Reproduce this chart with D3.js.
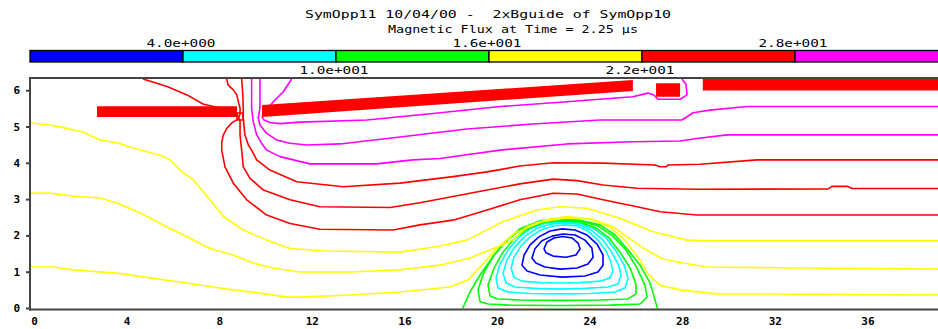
<!DOCTYPE html>
<html>
<head>
<meta charset="utf-8">
<script src="https://cdn.jsdelivr.net/npm/d3@7"></script>
<style>
  body { margin: 0; background: #fff; }
  svg { display: block; }
  text { font-family: "DejaVu Sans Mono", monospace; fill: #000; }
</style>
</head>
<body>
<div id="chart"></div>
<script>
// ---- data (x, y in plot units) ----
const titleLines = ["SymOpp11 10/04/00 -  2xBguide of SymOpp10", "Magnetic Flux at Time = 2.25 \u00b5s"];
const levelBreaks = [4, 10, 16, 22, 28];
const levelRange = [-2, 34];
const levelColors = ["#0000ff", "#00ffff", "#00ff00", "#ffff00", "#ff0000", "#ff00ff"];
const xTicks = [0, 4, 8, 12, 16, 20, 24, 28, 32, 36];
const yTicks = [0, 1, 2, 3, 4, 5, 6];

const blueContours = [
  { level: -2, closed: true, points: [[22.03,1.63],[22.16,1.82],[22.46,1.93],[22.85,1.97],[23.24,1.93],[23.50,1.79],[23.59,1.63],[23.41,1.46],[22.98,1.40],[22.42,1.43],[22.12,1.52]] },
  { level: 0, closed: true, points: [[21.51,1.38],[21.64,1.63],[21.94,1.85],[22.38,1.98],[22.85,2.04],[23.37,2.01],[23.80,1.87],[24.10,1.65],[24.15,1.40],[23.93,1.21],[23.46,1.10],[22.72,1.07],[22.07,1.13],[21.68,1.24]] },
  { level: 2, closed: true, points: [[21.08,1.18],[21.17,1.46],[21.43,1.74],[21.81,1.96],[22.29,2.12],[22.81,2.18],[23.37,2.15],[23.89,2.01],[24.32,1.76],[24.58,1.46],[24.58,1.18],[24.36,0.99],[23.80,0.88],[22.81,0.85],[21.86,0.91],[21.30,1.02]] }
];
const cyanContours = [
  { level: 4, closed: true, points: [[20.73,0.85],[20.61,1.10],[20.73,1.40],[21.04,1.71],[21.43,1.96],[21.90,2.15],[22.42,2.26],[22.94,2.29],[23.46,2.26],[23.93,2.12],[24.36,1.87],[24.71,1.57],[24.92,1.27],[25.01,1.02],[24.88,0.83],[24.45,0.74],[23.59,0.70],[22.72,0.69],[21.86,0.70],[21.08,0.74]] },
  { level: 6, closed: true, points: [[20.39,0.69],[20.26,0.96],[20.43,1.32],[20.73,1.65],[21.17,1.96],[21.68,2.18],[22.29,2.31],[22.85,2.34],[23.50,2.31],[24.06,2.15],[24.54,1.90],[24.92,1.57],[25.23,1.21],[25.36,0.91],[25.23,0.66],[24.80,0.58],[23.80,0.54],[22.72,0.52],[21.64,0.54],[20.78,0.58]] },
  { level: 8, closed: true, points: [[20.04,0.55],[19.96,0.83],[20.13,1.21],[20.48,1.60],[20.91,1.93],[21.43,2.18],[22.12,2.34],[22.81,2.37],[23.54,2.34],[24.19,2.18],[24.71,1.93],[25.14,1.57],[25.49,1.18],[25.66,0.83],[25.53,0.55],[25.10,0.44],[24.02,0.40],[22.72,0.39],[21.43,0.40],[20.48,0.44]] }
];
const greenContours = [
  { level: 10, closed: true, points: [[19.70,0.33],[19.61,0.63],[19.87,1.10],[20.26,1.54],[20.78,1.93],[21.34,2.18],[22.07,2.37],[22.81,2.40],[23.59,2.37],[24.28,2.20],[24.84,1.93],[25.31,1.54],[25.75,1.10],[26.00,0.66],[26.00,0.39],[25.66,0.25],[24.45,0.22],[22.72,0.21],[20.99,0.22],[20.04,0.25]] },
  { level: 12, closed: true, points: [[19.27,0.17],[19.18,0.50],[19.44,0.99],[19.87,1.46],[20.43,1.87],[21.12,2.20],[21.94,2.40],[22.72,2.42],[23.59,2.40],[24.36,2.26],[25.01,1.98],[25.57,1.60],[26.05,1.10],[26.39,0.63],[26.48,0.30],[26.18,0.11],[24.88,0.08],[22.72,0.07],[20.56,0.08],[19.61,0.11]] },
  { level: 14, closed: false, points: [[18.49,-0.05],[18.83,0.44],[19.27,0.91],[19.78,1.38],[20.35,1.82],[20.99,2.18],[21.86,2.40],[22.72,2.45],[23.59,2.42],[24.45,2.29],[25.10,2.01],[25.66,1.60],[26.18,1.18],[26.61,0.69],[26.95,-0.05]] }
];
const yellowContours = [
  { level: 16, closed: false, points: [[-0.17,1.13],[0.82,1.13],[1.68,1.05],[3.59,0.96],[5.01,0.83],[6.61,0.69],[7.73,0.58],[8.60,0.50],[9.76,0.41],[10.93,0.30],[11.49,0.30],[13.65,0.36],[15.81,0.44],[17.97,0.58],[18.75,0.77],[19.35,1.18],[20.00,1.65],[20.78,2.07],[21.86,2.37],[22.94,2.48],[24.02,2.45],[24.88,2.23],[25.53,1.87],[26.09,1.40],[26.52,0.94],[27.04,0.63],[27.91,0.50],[29.50,0.39],[39.05,0.36]] },
  { level: 18, closed: false, points: [[-0.17,3.17],[0.69,3.17],[1.56,3.09],[2.85,3.03],[3.59,2.89],[4.58,2.62],[5.75,2.23],[6.31,2.06],[7.60,1.64],[8.60,1.46],[9.46,1.24],[10.32,1.10],[11.49,0.99],[13.65,0.99],[15.81,1.05],[17.54,1.18],[18.83,1.38],[19.91,1.65],[20.69,1.87],[21.30,2.24],[22.16,2.44],[23.02,2.52],[24.15,2.44],[25.01,2.24],[25.62,1.96],[26.18,1.71],[26.61,1.54],[27.17,1.35],[28.03,1.24],[29.07,1.13],[33.09,1.10],[39.05,1.07]] },
  { level: 20, closed: false, points: [[-0.17,5.10],[0.69,5.04],[1.12,4.99],[2.12,4.85],[2.85,4.63],[3.59,4.55],[4.28,4.41],[5.44,4.21],[5.87,4.08],[6.31,3.80],[6.88,3.53],[7.60,2.98],[8.18,2.52],[9.04,2.15],[10.05,1.87],[11.06,1.64],[12.64,1.57],[15.81,1.54],[17.54,1.71],[18.70,1.87],[20.26,2.38],[21.73,2.70],[22.72,2.79],[23.89,2.75],[25.31,2.47],[26.74,2.10],[28.21,1.87],[29.07,1.85],[39.05,1.85]] }
];
const redContours = [
  { level: 22, closed: false, points: [[8.32,6.31],[8.39,6.14],[8.61,6.01],[8.76,5.87],[8.83,5.67],[8.90,5.51],[8.90,5.34],[8.81,5.21],[8.55,5.10],[8.34,4.96],[8.18,4.77],[8.11,4.57],[8.11,4.35],[8.25,3.89],[8.61,3.44],[9.19,2.98],[10.05,2.56],[11.06,2.33],[12.35,2.17],[15.51,2.15],[16.67,2.29],[18.10,2.42],[19.57,2.70],[20.99,2.98],[22.42,3.16],[23.46,3.14],[24.58,2.98],[26.05,2.79],[27.04,2.65],[28.64,2.56],[39.05,2.56]] },
  { level: 22, closed: true, points: [[8.77,5.37],[9.03,5.37],[9.03,5.18],[8.77,5.18]] },
  { level: 24, closed: false, points: [[4.71,6.31],[5.75,6.10],[6.61,5.87],[7.30,5.62],[8.03,5.51],[8.73,5.40],[8.90,5.15],[8.90,4.77],[8.97,4.35],[9.04,3.89],[9.33,3.57],[9.91,3.25],[11.06,2.98],[12.35,2.79],[15.38,2.77],[16.67,2.90],[18.10,3.07],[19.57,3.25],[20.99,3.42],[22.42,3.55],[23.46,3.51],[24.58,3.39],[26.05,3.30],[28.64,3.27],[34.30,3.28],[34.47,3.35],[35.16,3.35],[35.33,3.29],[39.05,3.29]] },
  { level: 26, closed: false, points: [[8.97,6.31],[9.02,5.87],[9.04,5.51],[9.04,5.23],[9.11,4.77],[9.26,4.49],[9.40,4.35],[9.62,4.08],[10.19,3.80],[11.35,3.48],[13.36,3.34],[15.81,3.44],[18.10,3.62],[19.57,3.75],[20.99,3.91],[22.42,4.00],[24.58,3.99],[26.83,3.94],[27.04,3.89],[27.30,3.89],[27.39,3.94],[28.77,3.96],[31.23,4.08],[39.05,4.08]] }
];
const magentaContours = [
  { level: 28, closed: false, points: [[9.40,6.31],[9.40,5.51],[9.47,5.13],[9.62,4.77],[9.85,4.52],[10.05,4.35],[10.63,4.17],[11.92,3.97],[14.80,3.97],[16.37,4.08],[17.54,4.12],[20.13,4.35],[23.02,4.52],[25.87,4.58],[27.91,4.60],[28.64,4.67],[29.94,4.77],[39.05,4.77]] },
  { level: 30, closed: false, points: [[9.76,6.31],[9.76,5.51],[9.69,5.23],[9.76,5.04],[10.05,4.81],[10.48,4.63],[11.06,4.54],[11.78,4.49],[13.22,4.52],[15.81,4.71],[18.70,4.93],[21.56,5.07],[24.45,5.18],[26.61,5.18],[27.99,5.18],[28.47,5.38],[29.20,5.45],[30.80,5.55],[39.05,5.55]] },
  { level: 32, closed: false, points: [[11.13,6.31],[10.76,5.95],[10.32,5.67],[10.02,5.45],[9.85,5.26],[9.94,5.18],[10.19,5.11],[10.63,5.08],[11.49,5.12],[14.38,5.18],[17.24,5.36],[20.13,5.55],[23.02,5.68],[25.87,5.82],[26.52,5.92],[26.78,5.87],[26.95,5.75],[27.91,5.75],[28.21,5.87],[28.16,6.17],[27.99,6.31]] }
];

// conductors (filled red shapes)
const conductors = [
  [[2.72,5.26],[8.77,5.26],[8.77,5.56],[2.72,5.56]],
  [[9.85,5.26],[9.85,5.59],[25.87,6.28],[25.87,5.98]],
  [[26.87,5.82],[27.91,5.82],[27.91,6.19],[26.87,6.19]],
  [[28.89,5.99],[39.6,5.99],[39.6,6.32],[28.89,6.32]]
];

// ---- layout ----
const width = 938, height = 329;
const plot = { left: 30, right: 938, top: 78, bottom: 309.5 };

const svg = d3.select('#chart').append('svg')
  .attr('width', width)
  .attr('height', height);

const x = d3.scaleLinear().domain([0, 39]).range([34, 34 + 39 * 23.15]);
const y = d3.scaleLinear().domain([0, 6]).range([308, 308 - 6 * 36.3]);
const color = d3.scaleThreshold().domain(levelBreaks).range(levelColors);

// title
svg.append('text')
  .attr('x', 305).attr('y', 18)
  .attr('textLength', 366).attr('lengthAdjust', 'spacingAndGlyphs')
  .style('white-space', 'pre')
  .attr('font-size', 11)
  .text(titleLines[0]);
svg.append('text')
  .attr('x', 388).attr('y', 33)
  .attr('textLength', 250).attr('lengthAdjust', 'spacingAndGlyphs')
  .style('white-space', 'pre')
  .attr('font-size', 11)
  .text(titleLines[1]);

// colour bar
const cb = d3.scaleLinear().domain(levelRange).range([30, 30 + 6 * 153]);
const edges = [levelRange[0], ...levelBreaks, levelRange[1]];
const fmtE = v => {
  const e = Math.floor(Math.log10(Math.abs(v)));
  const m = v / Math.pow(10, e);
  return m.toFixed(1) + 'e' + (e < 0 ? '-' : '+') + String(Math.abs(e)).padStart(3, '0');
};

svg.append('g').selectAll('rect')
  .data(d3.pairs(edges))
  .join('rect')
  .attr('x', d => cb(d[0]))
  .attr('y', 50.5)
  .attr('width', d => cb(d[1]) - cb(d[0]))
  .attr('height', 11.5)
  .attr('fill', d => color(d[0]))
  .attr('stroke', '#000')
  .attr('stroke-width', 1.3);

svg.append('g').selectAll('text')
  .data(levelBreaks)
  .join('text')
  .attr('x', d => cb(d) - 2)
  .attr('y', (d, i) => i % 2 === 0 ? 46.5 : 74)
  .attr('text-anchor', 'middle')
  .attr('textLength', 69).attr('lengthAdjust', 'spacingAndGlyphs')
  .attr('font-size', 11)
  .text(fmtE);

// contours
svg.append('clipPath').attr('id', 'plotClip')
  .append('rect')
  .attr('x', plot.left + 1).attr('y', plot.top + 1)
  .attr('width', plot.right - plot.left).attr('height', plot.bottom - plot.top - 2);

const openLine = d3.line().x(d => x(d[0])).y(d => y(d[1]));
const closedLine = d3.line().x(d => x(d[0])).y(d => y(d[1])).curve(d3.curveLinearClosed);

const allContours = [].concat(blueContours, cyanContours, greenContours, yellowContours, redContours, magentaContours);

const gPlot = svg.append('g').attr('clip-path', 'url(#plotClip)');

gPlot.selectAll('path.contour')
  .data(allContours)
  .join('path')
  .attr('class', 'contour')
  .attr('fill', 'none')
  .attr('stroke', d => color(d.level))
  .attr('stroke-width', 1.6)
  .attr('stroke-linejoin', 'round')
  .attr('d', d => d.closed ? closedLine(d.points) : openLine(d.points));

gPlot.selectAll('path.conductor')
  .data(conductors)
  .join('path')
  .attr('class', 'conductor')
  .attr('fill', '#ff0000')
  .attr('d', d => closedLine(d));

// frame + axes
const frame = svg.append('g').attr('stroke', '#444').attr('stroke-width', 2).attr('fill', 'none');
frame.append('line').attr('x1', plot.left).attr('x2', plot.left).attr('y1', plot.top - 1).attr('y2', plot.bottom + 1);
frame.append('line').attr('x1', plot.left).attr('x2', plot.right).attr('y1', plot.top).attr('y2', plot.top);
frame.append('line').attr('x1', plot.left - 1).attr('x2', plot.right).attr('y1', plot.bottom).attr('y2', plot.bottom);

const yAxis = svg.append('g')
  .attr('transform', `translate(${plot.left},0)`)
  .call(d3.axisLeft(y).tickValues(yTicks).tickSize(4).tickPadding(6).tickFormat(d3.format('d')));
yAxis.select('.domain').remove();
yAxis.selectAll('line').attr('stroke', '#444').attr('stroke-width', 2);

const xAxis = svg.append('g')
  .attr('transform', `translate(0,${plot.bottom})`)
  .call(d3.axisBottom(x).tickValues(xTicks).tickSize(0).tickPadding(8).tickFormat(d3.format('d')));
xAxis.select('.domain').remove();

svg.selectAll('.tick text')
  .attr('font-family', '"DejaVu Sans Mono", monospace')
  .attr('font-size', 11)
  .attr('font-weight', 'bold')
  .attr('fill', '#000');
</script>
</body>
</html>
